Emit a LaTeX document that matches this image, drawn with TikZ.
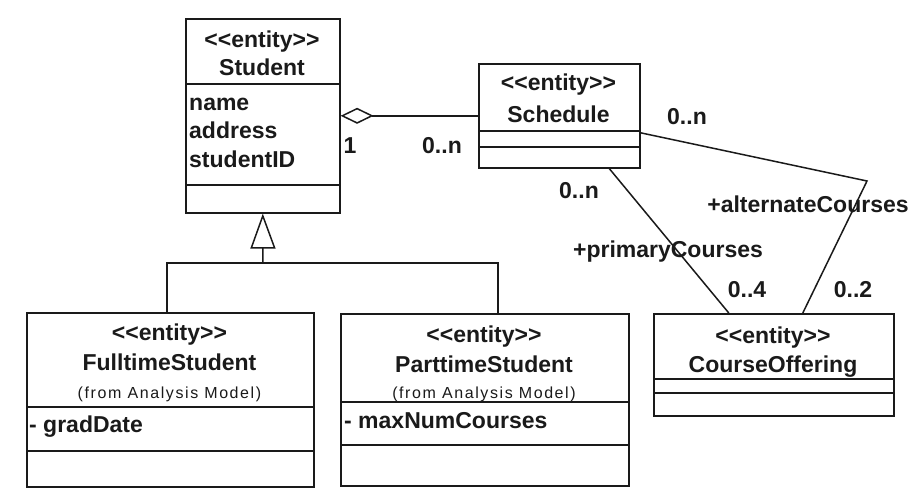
\documentclass[tikz,border=0pt]{standalone}
\usepackage{fontspec}
\setmainfont{Liberation Sans}
\newfontfamily\fromfont[LetterSpace=10]{Liberation Sans}
\usetikzlibrary{arrows.meta}
\definecolor{ink}{HTML}{1A1A1A}
\newcommand\entst{<\kern0pt<entity>\kern0pt>}
\tikzset{
  box/.style={draw=ink, line width=1.6pt, inner sep=0pt, anchor=north west, fill=white},
  lbl/.style={inner sep=0pt, anchor=base, text=ink, font=\fontsize{23}{27}\selectfont\bfseries},
  attr/.style={lbl, anchor=base west},
  fromlbl/.style={inner sep=0pt, anchor=base, text=ink, font=\fontsize{16}{19}\fromfont},
  conn/.style={draw=ink, line width=1.5pt},
  sepline/.style={draw=ink, line width=1.6pt},
}
\begin{document}
\begin{tikzpicture}[x=1pt, y=-1pt]
\fill[white] (0,0) rectangle (913,488);
\useasboundingbox (0,0) rectangle (913,488);

% ---------- class boxes ----------
\node[box, minimum width=154pt, minimum height=194pt] (student) at (185,18) {};
\node[box, minimum width=161pt, minimum height=104pt] (sched) at (478,63) {};
\node[box, minimum width=240pt, minimum height=102pt] (co) at (653,313) {};
\node[box, minimum width=287pt, minimum height=174pt] (full) at (26,312) {};
\node[box, minimum width=288pt, minimum height=172pt] (part) at (340,313) {};

% compartments
\draw[sepline] (student.west |- 0,84) -- (student.east |- 0,84);
\draw[sepline] (student.west |- 0,185) -- (student.east |- 0,185);
\draw[sepline] (sched.west |- 0,131) -- (sched.east |- 0,131);
\draw[sepline] (sched.west |- 0,147) -- (sched.east |- 0,147);
\draw[sepline] (co.west |- 0,379) -- (co.east |- 0,379);
\draw[sepline] (co.west |- 0,393) -- (co.east |- 0,393);
\draw[sepline] (full.west |- 0,407) -- (full.east |- 0,407);
\draw[sepline] (full.west |- 0,451) -- (full.east |- 0,451);
\draw[sepline] (part.west |- 0,402) -- (part.east |- 0,402);
\draw[sepline] (part.west |- 0,445) -- (part.east |- 0,445);

% ---------- texts ----------
\node[lbl] (stS) at (262,47) {\entst};
\node[lbl] (stN) at (262,75) {Student};
\node[attr] (stA1) at (189,110) {name};
\node[attr] (stA2) at (189,138) {address};
\node[attr] (stA3) at (189,167) {studentID};

\node[lbl] (scS) at (558.5,90) {\entst};
\node[lbl] (scN) at (558.5,122) {Schedule};

\node[lbl] (coS) at (773,343) {\entst};
\node[lbl] (coN) at (773,372) {CourseOffering};

\node[lbl] (fuS) at (169.5,340) {\entst};
\node[lbl] (fuN) at (169.5,370) {FulltimeStudent};
\node[fromlbl] (fuF) at (169.5,398) {(from Analysis Model)};
\node[attr] (fuA) at (29,432) {- gradDate};

\node[lbl] (paS) at (484,342) {\entst};
\node[lbl] (paN) at (484,372) {ParttimeStudent};
\node[fromlbl] (paF) at (484,398) {(from Analysis Model)};
\node[attr] (paA) at (344,428) {- maxNumCourses};

% ---------- connectors ----------
% aggregation Student <>--- Schedule
\draw[conn, {Diamond[open, length=33pt, width=16pt]}-] (student.east |- sched.west) -- (sched.west);
\node[lbl] (m1) at (350,153) {1};
\node[lbl] (m2) at (442,153) {0..n};

% generalization
\coordinate (bar) at (263,263);
\draw[conn, -{Triangle[open, length=35pt, width=25pt]}] (bar) -- (student.south);
\draw[conn] ([xshift=-3.5pt]full.north) |- (bar) -| ([xshift=13pt]part.north);

% primaryCourses
\draw[conn] ([xshift=50pt]sched.south) -- ([xshift=-45pt]co.north);
\node[lbl] (m3) at (579,198) {0..n};
\node[lbl] (r1) at (668,257) {+primaryCourses};
\node[lbl] (m4) at (747,297) {0..4};

% alternateCourses
\coordinate (altbend) at (867,181);
\draw[conn] ([yshift=-17pt]sched.east) -- (altbend) -- ([xshift=29pt]co.north);
\node[lbl] (m5) at (687,124) {0..n};
\node[lbl] (r2) at (808,212) {+alternateCourses};
\node[lbl] (m6) at (853,297) {0..2};
\end{tikzpicture}
\end{document}
